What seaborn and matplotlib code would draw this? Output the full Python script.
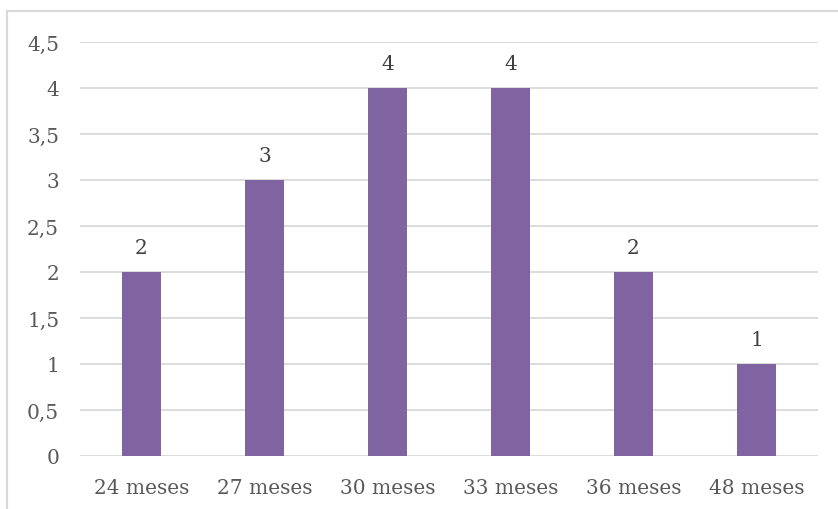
import matplotlib
matplotlib.use("Agg")
import matplotlib.pyplot as plt
from matplotlib.patches import Rectangle
import seaborn as sns
import pandas as pd

categories = ["24 meses", "27 meses", "30 meses", "33 meses", "36 meses", "48 meses"]
values = [2, 3, 4, 4, 2, 1]
y_ticks = [0, 0.5, 1, 1.5, 2, 2.5, 3, 3.5, 4, 4.5]
y_tick_labels = ["0", "0,5", "1", "1,5", "2", "2,5", "3", "3,5", "4", "4,5"]

sns.set_theme(style="white")
plt.rcParams["font.family"] = ["DejaVu Serif"]

W, H = 838, 510
fig = plt.figure(figsize=(W / 100, H / 100), dpi=100)
ax = fig.add_axes([80 / W, (H - 457) / H, (818 - 80) / W, (457 - 43) / H])

df = pd.DataFrame({"periodo": categories, "valor": values})
sns.barplot(data=df, x="periodo", y="valor", color="#8064A2", width=0.31,
            saturation=1, linewidth=0, ax=ax, zorder=3)

ax.set_ylim(0, 4.5)
ax.set_xlim(-0.5, len(categories) - 0.5)
ax.set_yticks(y_ticks)
ax.set_yticklabels(y_tick_labels)
ax.set_xlabel("")
ax.set_ylabel("")
ax.grid(axis="y", color="#D9D9D9", linewidth=1.3, zorder=0)
ax.set_axisbelow(True)
for s in ax.spines.values():
    s.set_visible(False)
ax.tick_params(axis="both", length=0, labelsize=14.5, colors="#595959")
ax.tick_params(axis="y", pad=15)
ax.tick_params(axis="x", pad=16)

for c in ax.containers:
    ax.bar_label(c, labels=[str(v) for v in values], padding=11,
                 fontsize=14.5, color="#404040")

# outer chart border
fig.patches.append(Rectangle((7 / W, -0.1), 1.1, 1 - 12 / H + 0.1,
                             transform=fig.transFigure, fill=False,
                             edgecolor="#D9D9D9", linewidth=1.5))

fig.savefig("out.png", dpi=100, facecolor="white")
